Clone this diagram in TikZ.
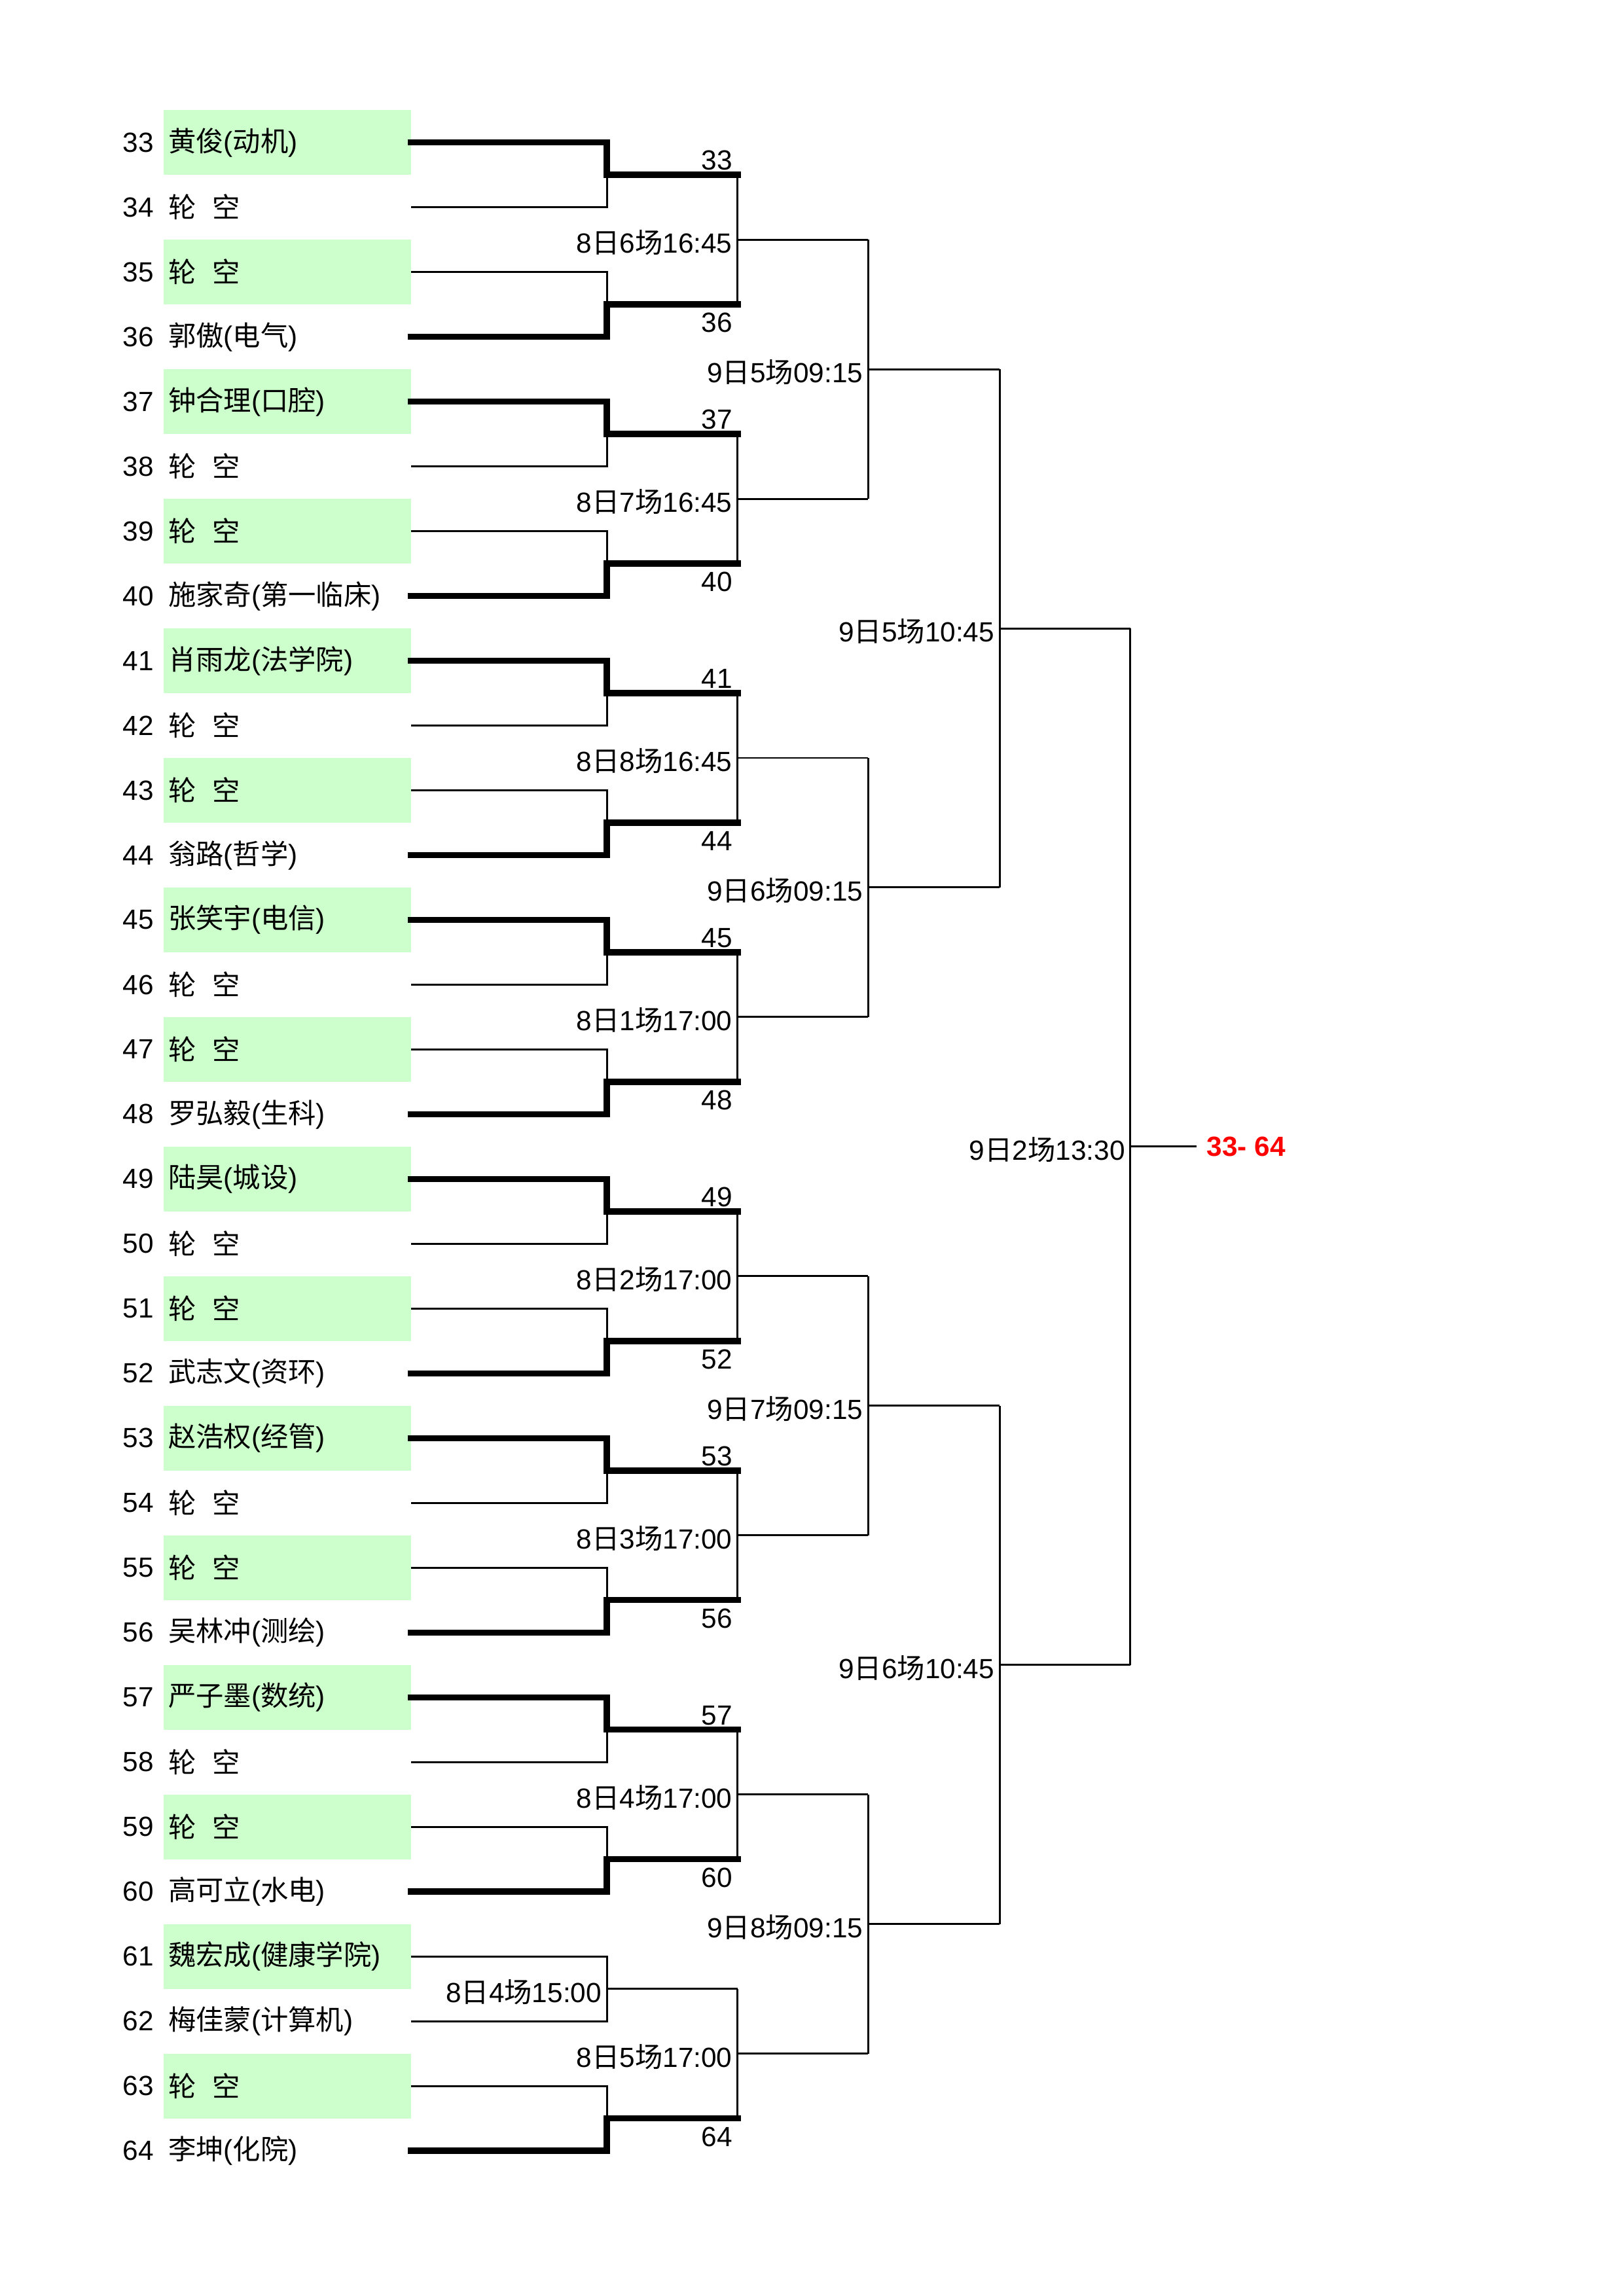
\documentclass[tikz,border=0pt]{standalone}
\usepackage{fontspec}
\setmainfont{Liberation Sans}
\newfontfamily\cjk{Noto Sans CJK SC}
\usepackage{tikz}
\usepackage{xcolor}
\usetikzlibrary{positioning}
\definecolor{byegreen}{RGB}{204,255,204}
\newcommand{\player}[2]{{\cjk #1}({\cjk #2})}
\newcommand{\lunkong}{{\cjk 轮\hspace{0.6em}空}}
\newcommand{\gametime}[3]{#1{\cjk 日}#2{\cjk 场}#3}

\begin{document}
\begin{tikzpicture}[font=\fontsize{10.2}{12}\selectfont]
\tikzstyle{every node}+=[inner sep=0pt, outer sep=0pt]
\tikzstyle{evenbox}=[anchor=west, minimum height=0.838cm, text width=3.08cm, inner xsep=0.06cm, align=left]
\tikzstyle{oddbox}=[evenbox, fill=byegreen]
\tikzstyle{winline}=[black, line width=0.8mm, line cap=rect]
\tikzstyle{loseline}=[black, line width=0.25mm]
\tikzstyle{timelab}=[yshift=-0.4mm]
\tikzstyle{champlab}=[anchor=west, inner xsep=0.13cm, text=red, font=\fontsize{10.2}{12}\selectfont\bfseries]
\useasboundingbox (0,0) rectangle (21,-29.7);
\node[oddbox] (n33) at (2.116,-1.843) {\player{黄俊}{动机}};
\node[evenbox, below=0pt of n33] (n34) {\lunkong};
\node[oddbox, below=0pt of n34] (n35) {\lunkong};
\node[evenbox, below=0pt of n35] (n36) {\player{郭傲}{电气}};
\node[oddbox, below=0pt of n36] (n37) {\player{钟合理}{口腔}};
\node[evenbox, below=0pt of n37] (n38) {\lunkong};
\node[oddbox, below=0pt of n38] (n39) {\lunkong};
\node[evenbox, below=0pt of n39] (n40) {\player{施家奇}{第一临床}};
\node[oddbox, below=0pt of n40] (n41) {\player{肖雨龙}{法学院}};
\node[evenbox, below=0pt of n41] (n42) {\lunkong};
\node[oddbox, below=0pt of n42] (n43) {\lunkong};
\node[evenbox, below=0pt of n43] (n44) {\player{翁路}{哲学}};
\node[oddbox, below=0pt of n44] (n45) {\player{张笑宇}{电信}};
\node[evenbox, below=0pt of n45] (n46) {\lunkong};
\node[oddbox, below=0pt of n46] (n47) {\lunkong};
\node[evenbox, below=0pt of n47] (n48) {\player{罗弘毅}{生科}};
\node[oddbox, below=0pt of n48] (n49) {\player{陆昊}{城设}};
\node[evenbox, below=0pt of n49] (n50) {\lunkong};
\node[oddbox, below=0pt of n50] (n51) {\lunkong};
\node[evenbox, below=0pt of n51] (n52) {\player{武志文}{资环}};
\node[oddbox, below=0pt of n52] (n53) {\player{赵浩权}{经管}};
\node[evenbox, below=0pt of n53] (n54) {\lunkong};
\node[oddbox, below=0pt of n54] (n55) {\lunkong};
\node[evenbox, below=0pt of n55] (n56) {\player{吴林冲}{测绘}};
\node[oddbox, below=0pt of n56] (n57) {\player{严子墨}{数统}};
\node[evenbox, below=0pt of n57] (n58) {\lunkong};
\node[oddbox, below=0pt of n58] (n59) {\lunkong};
\node[evenbox, below=0pt of n59] (n60) {\player{高可立}{水电}};
\node[oddbox, below=0pt of n60] (n61) {\player{魏宏成}{健康学院}};
\node[evenbox, below=0pt of n61] (n62) {\player{梅佳蒙}{计算机}};
\node[oddbox, below=0pt of n62] (n63) {\lunkong};
\node[evenbox, below=0pt of n63] (n64) {\player{李坤}{化院}};
\node[left=0.13cm of n33] (s33) {33};
\node[left=0.13cm of n34] (s34) {34};
\node[left=0.13cm of n35] (s35) {35};
\node[left=0.13cm of n36] (s36) {36};
\node[left=0.13cm of n37] (s37) {37};
\node[left=0.13cm of n38] (s38) {38};
\node[left=0.13cm of n39] (s39) {39};
\node[left=0.13cm of n40] (s40) {40};
\node[left=0.13cm of n41] (s41) {41};
\node[left=0.13cm of n42] (s42) {42};
\node[left=0.13cm of n43] (s43) {43};
\node[left=0.13cm of n44] (s44) {44};
\node[left=0.13cm of n45] (s45) {45};
\node[left=0.13cm of n46] (s46) {46};
\node[left=0.13cm of n47] (s47) {47};
\node[left=0.13cm of n48] (s48) {48};
\node[left=0.13cm of n49] (s49) {49};
\node[left=0.13cm of n50] (s50) {50};
\node[left=0.13cm of n51] (s51) {51};
\node[left=0.13cm of n52] (s52) {52};
\node[left=0.13cm of n53] (s53) {53};
\node[left=0.13cm of n54] (s54) {54};
\node[left=0.13cm of n55] (s55) {55};
\node[left=0.13cm of n56] (s56) {56};
\node[left=0.13cm of n57] (s57) {57};
\node[left=0.13cm of n58] (s58) {58};
\node[left=0.13cm of n59] (s59) {59};
\node[left=0.13cm of n60] (s60) {60};
\node[left=0.13cm of n61] (s61) {61};
\node[left=0.13cm of n62] (s62) {62};
\node[left=0.13cm of n63] (s63) {63};
\node[left=0.13cm of n64] (s64) {64};
\coordinate (a1) at (7.85,-2.262);
\coordinate (a2) at (7.85,-3.938);
\coordinate (a3) at (7.85,-5.614);
\coordinate (a4) at (7.85,-7.290);
\coordinate (a5) at (7.85,-8.966);
\coordinate (a6) at (7.85,-10.642);
\coordinate (a7) at (7.85,-12.318);
\coordinate (a8) at (7.85,-13.994);
\coordinate (a9) at (7.85,-15.670);
\coordinate (a10) at (7.85,-17.346);
\coordinate (a11) at (7.85,-19.022);
\coordinate (a12) at (7.85,-20.698);
\coordinate (a13) at (7.85,-22.374);
\coordinate (a14) at (7.85,-24.050);
\coordinate (a15) at (7.85,-25.726);
\coordinate (a16) at (7.85,-27.402);
\coordinate (b1) at (9.54,-2.262);
\coordinate (b2) at (9.54,-3.938);
\coordinate (b3) at (9.54,-5.614);
\coordinate (b4) at (9.54,-7.290);
\coordinate (b5) at (9.54,-8.966);
\coordinate (b6) at (9.54,-10.642);
\coordinate (b7) at (9.54,-12.318);
\coordinate (b8) at (9.54,-13.994);
\coordinate (b9) at (9.54,-15.670);
\coordinate (b10) at (9.54,-17.346);
\coordinate (b11) at (9.54,-19.022);
\coordinate (b12) at (9.54,-20.698);
\coordinate (b13) at (9.54,-22.374);
\coordinate (b14) at (9.54,-24.050);
\coordinate (b15) at (9.54,-25.726);
\coordinate (b16) at (9.54,-27.402);
\coordinate (c1) at (9.54,-3.100);
\coordinate (c2) at (9.54,-6.452);
\coordinate (c3) at (9.54,-9.804);
\coordinate (c4) at (9.54,-13.156);
\coordinate (c5) at (9.54,-16.508);
\coordinate (c6) at (9.54,-19.860);
\coordinate (c7) at (9.54,-23.212);
\coordinate (c8) at (9.54,-26.564);
\coordinate (d1) at (11.23,-3.100);
\coordinate (d2) at (11.23,-6.452);
\coordinate (d3) at (11.23,-9.804);
\coordinate (d4) at (11.23,-13.156);
\coordinate (d5) at (11.23,-16.508);
\coordinate (d6) at (11.23,-19.860);
\coordinate (d7) at (11.23,-23.212);
\coordinate (d8) at (11.23,-26.564);
\coordinate (e1) at (11.23,-4.776);
\coordinate (e2) at (11.23,-11.480);
\coordinate (e3) at (11.23,-18.184);
\coordinate (e4) at (11.23,-24.888);
\coordinate (f1) at (12.93,-4.776);
\coordinate (f2) at (12.93,-11.480);
\coordinate (f3) at (12.93,-18.184);
\coordinate (f4) at (12.93,-24.888);
\coordinate (g1) at (12.93,-8.128);
\coordinate (g2) at (12.93,-21.536);
\coordinate (h1) at (14.62,-8.128);
\coordinate (h2) at (14.62,-21.536);
\coordinate (fin) at (14.62,-14.832);
\draw [loseline] (n34.east) -| (a1);
\draw [winline] (n33.east) -| (a1) -- (b1);
\draw [loseline] (n35.east) -| (a2);
\draw [winline] (n36.east) -| (a2) -- (b2);
\draw [loseline] (n38.east) -| (a3);
\draw [winline] (n37.east) -| (a3) -- (b3);
\draw [loseline] (n39.east) -| (a4);
\draw [winline] (n40.east) -| (a4) -- (b4);
\draw [loseline] (n42.east) -| (a5);
\draw [winline] (n41.east) -| (a5) -- (b5);
\draw [loseline] (n43.east) -| (a6);
\draw [winline] (n44.east) -| (a6) -- (b6);
\draw [loseline] (n46.east) -| (a7);
\draw [winline] (n45.east) -| (a7) -- (b7);
\draw [loseline] (n47.east) -| (a8);
\draw [winline] (n48.east) -| (a8) -- (b8);
\draw [loseline] (n50.east) -| (a9);
\draw [winline] (n49.east) -| (a9) -- (b9);
\draw [loseline] (n51.east) -| (a10);
\draw [winline] (n52.east) -| (a10) -- (b10);
\draw [loseline] (n54.east) -| (a11);
\draw [winline] (n53.east) -| (a11) -- (b11);
\draw [loseline] (n55.east) -| (a12);
\draw [winline] (n56.east) -| (a12) -- (b12);
\draw [loseline] (n58.east) -| (a13);
\draw [winline] (n57.east) -| (a13) -- (b13);
\draw [loseline] (n59.east) -| (a14);
\draw [winline] (n60.east) -| (a14) -- (b14);
\draw [loseline] (n61.east) -| (a15) -- (b15);
\draw [loseline] (n62.east) -| (a15);
\draw [loseline] (n63.east) -| (a16);
\draw [winline] (n64.east) -| (a16) -- (b16);
\node[timelab, left=0.07cm of a15] (z15) {\gametime{8}{4}{15:00}};
\node[above left=0.06cm and 0.07cm of b1] (w1) {33};
\node[below left=0.11cm and 0.07cm of b2] (w2) {36};
\node[above left=0.06cm and 0.07cm of b3] (w3) {37};
\node[below left=0.11cm and 0.07cm of b4] (w4) {40};
\node[above left=0.06cm and 0.07cm of b5] (w5) {41};
\node[below left=0.11cm and 0.07cm of b6] (w6) {44};
\node[above left=0.06cm and 0.07cm of b7] (w7) {45};
\node[below left=0.11cm and 0.07cm of b8] (w8) {48};
\node[above left=0.06cm and 0.07cm of b9] (w9) {49};
\node[below left=0.11cm and 0.07cm of b10] (w10) {52};
\node[above left=0.06cm and 0.07cm of b11] (w11) {53};
\node[below left=0.11cm and 0.07cm of b12] (w12) {56};
\node[above left=0.06cm and 0.07cm of b13] (w13) {57};
\node[below left=0.11cm and 0.07cm of b14] (w14) {60};
\node[below left=0.11cm and 0.07cm of b16] (w16) {64};
\draw [loseline] (b1) -- (b2);
\draw [loseline] (c1) -- (d1);
\draw [loseline] (b3) -- (b4);
\draw [loseline] (c2) -- (d2);
\draw [loseline] (b5) -- (b6);
\draw [loseline] (c3) -- (d3);
\draw [loseline] (b7) -- (b8);
\draw [loseline] (c4) -- (d4);
\draw [loseline] (b9) -- (b10);
\draw [loseline] (c5) -- (d5);
\draw [loseline] (b11) -- (b12);
\draw [loseline] (c6) -- (d6);
\draw [loseline] (b13) -- (b14);
\draw [loseline] (c7) -- (d7);
\draw [loseline] (b15) -- (b16);
\draw [loseline] (c8) -- (d8);
\node[timelab, left=0.07cm of c1] (t1) {\gametime{8}{6}{16:45}};
\node[timelab, left=0.07cm of c2] (t2) {\gametime{8}{7}{16:45}};
\node[timelab, left=0.07cm of c3] (t3) {\gametime{8}{8}{16:45}};
\node[timelab, left=0.07cm of c4] (t4) {\gametime{8}{1}{17:00}};
\node[timelab, left=0.07cm of c5] (t5) {\gametime{8}{2}{17:00}};
\node[timelab, left=0.07cm of c6] (t6) {\gametime{8}{3}{17:00}};
\node[timelab, left=0.07cm of c7] (t7) {\gametime{8}{4}{17:00}};
\node[timelab, left=0.07cm of c8] (t8) {\gametime{8}{5}{17:00}};
\draw [loseline] (d1) -- (d2);
\draw [loseline] (e1) -- (f1);
\draw [loseline] (d3) -- (d4);
\draw [loseline] (e2) -- (f2);
\draw [loseline] (d5) -- (d6);
\draw [loseline] (e3) -- (f3);
\draw [loseline] (d7) -- (d8);
\draw [loseline] (e4) -- (f4);
\node[timelab, left=0.07cm of e1] (u1) {\gametime{9}{5}{09:15}};
\node[timelab, left=0.07cm of e2] (u2) {\gametime{9}{6}{09:15}};
\node[timelab, left=0.07cm of e3] (u3) {\gametime{9}{7}{09:15}};
\node[timelab, left=0.07cm of e4] (u4) {\gametime{9}{8}{09:15}};
\draw [loseline] (f1) -- (f2);
\draw [loseline] (g1) -- (h1);
\draw [loseline] (f3) -- (f4);
\draw [loseline] (g2) -- (h2);
\node[timelab, left=0.07cm of g1] (v1) {\gametime{9}{5}{10:45}};
\node[timelab, left=0.07cm of g2] (v2) {\gametime{9}{6}{10:45}};
\node[champlab] (champ) at (15.48,-14.832) {33- 64};
\draw [loseline] (h1) -- (h2);
\draw [loseline] (fin) -- (champ.west);
\node[timelab, left=0.07cm of fin] (v0) {\gametime{9}{2}{13:30}};
\end{tikzpicture}
\end{document}
